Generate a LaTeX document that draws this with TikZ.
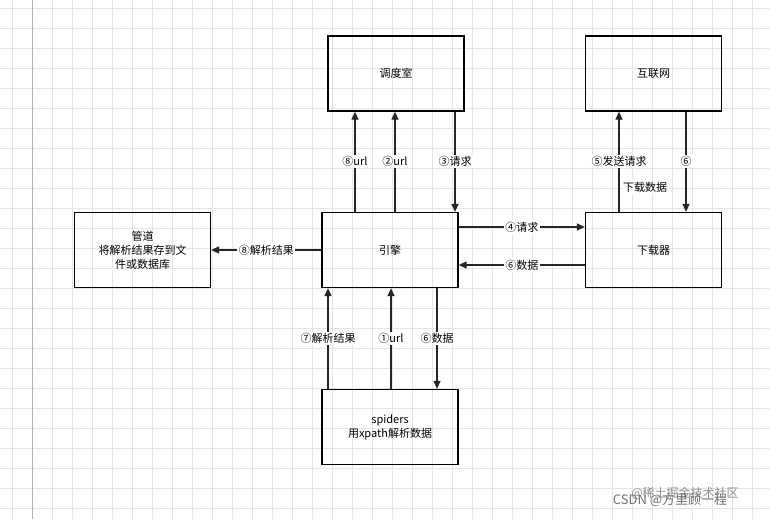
\documentclass[tikz,border=0pt]{standalone}
\usepackage{fontspec}
\setmainfont{Noto Sans CJK SC}
\usetikzlibrary{arrows.meta}
\begin{document}
\begin{tikzpicture}[x=1pt,y=-1pt,
  box/.style={draw=black,line width=1.3pt,minimum width=136pt,minimum height=75pt,align=center,font=\fontsize{11}{14}\selectfont,inner sep=0pt},
  ar/.style={line width=1.3pt,-{Triangle[length=8pt,width=7pt]},draw=black!85},
  lb/.style={fill=white,inner sep=1.5pt,font=\fontsize{11}{13}\selectfont}]
\useasboundingbox (0,0) rectangle (770,519);
\fill[white] (0,0) rectangle (770,519);
\foreach \x in {12,32,...,770} \draw[black!10,line width=0.5pt] (\x,0) -- (\x,519);
\foreach \y in {8,28,...,519} \draw[black!10,line width=0.5pt] (0,\y) -- (770,\y);
\draw[black!30,line width=1pt] (32,0) -- (32,519);
\node[box] (dd) at (396,73.5) {调度室};
\node[box] (hl) at (653.5,73.5) {互联网};
\node[box] (gd) at (142.5,250) {管道\\将解析结果存到文\\件或数据库};
\node[box] (yq) at (390,250) {引擎};
\node[box] (xz) at (653.5,250) {下载器};
\node[box] (sp) at (390,427) {spiders\\用xpath解析数据};
\draw[ar] (yq.north -| 355,0) -- node[lb]{⑧url} (dd.south -| 355,0);
\draw[ar] (yq.north -| 395,0) -- node[lb]{②url} (dd.south -| 395,0);
\draw[ar] (dd.south -| 455,0) -- node[lb]{③请求} (yq.north -| 455,0);
\draw[ar] (yq.east |- 0,227) -- node[lb]{④请求} (xz.west |- 0,227);
\draw[ar] (xz.west |- 0,265) -- node[lb]{⑥数据} (yq.east |- 0,265);
\draw[ar] (xz.north -| 619,0) -- node[lb]{⑤发送请求} (hl.south -| 619,0);
\draw[ar] (hl.south -| 686,0) -- node[lb]{⑥} (xz.north -| 686,0);
\node[lb] (xzsj) at (645,187) {下载数据};
\draw[ar] (yq.west |- 0,250) -- node[lb]{⑧解析结果} (gd.east |- 0,250);
\draw[ar] (sp.north -| 328,0) -- node[lb]{⑦解析结果} (yq.south -| 328,0);
\draw[ar] (sp.north -| 391,0) -- node[lb]{①url} (yq.south -| 391,0);
\draw[ar] (yq.south -| 437,0) -- node[lb]{⑥数据} (sp.north -| 437,0);
\node[text=black!45,font=\fontsize{12}{14}\selectfont] (wm1) at (685,493) {@稀土掘金技术社区};
\node[text=black!55,font=\fontsize{13}{15}\selectfont] (wm2) at (670,500) {CSDN @方里顾一程};
\end{tikzpicture}
\end{document}
